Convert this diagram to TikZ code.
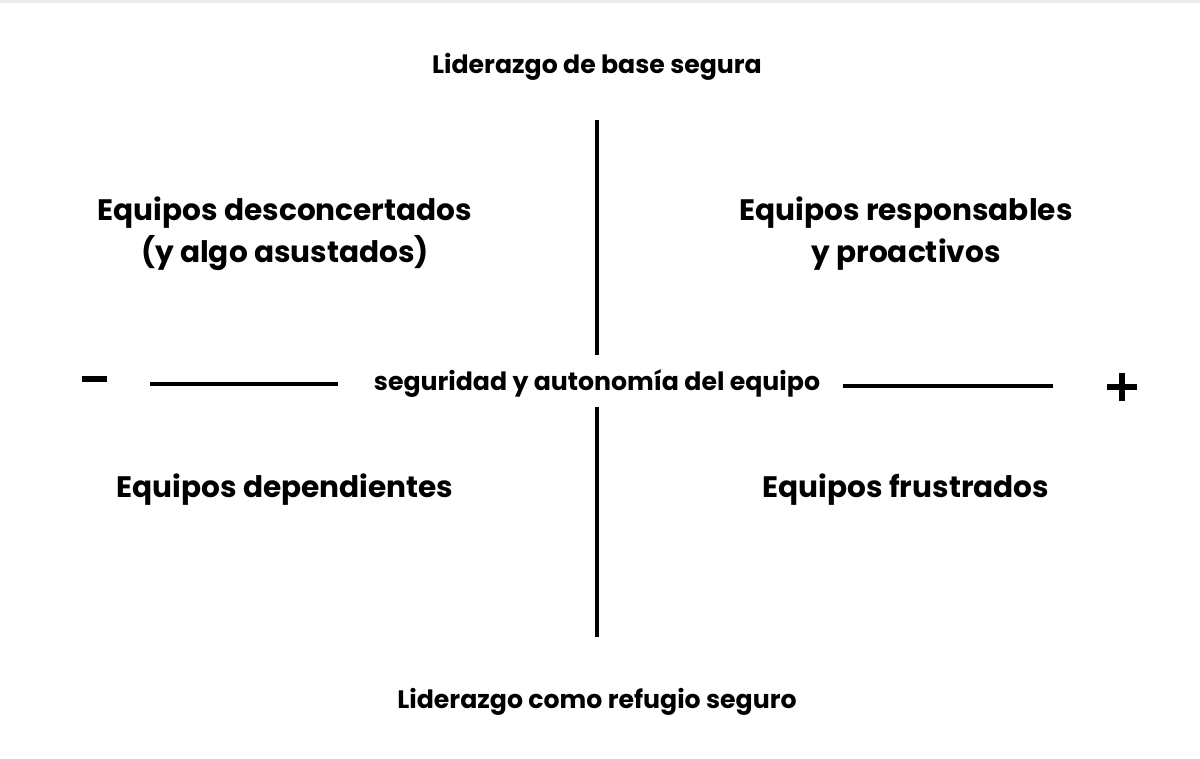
\documentclass[tikz,border=0pt]{standalone}
\usepackage{fontspec}
\setmainfont{Poppins}
\usetikzlibrary{calc}
\begin{document}
\begin{tikzpicture}[x=0.75pt,y=-0.75pt,
  big/.style={font=\fontsize{22.2}{31.5}\selectfont\bfseries, align=center, inner sep=0pt},
  small/.style={font=\fontsize{18.9}{20}\selectfont\bfseries, inner sep=0pt},
  axis/.style={line width=3.2pt}]
\useasboundingbox (0,0) rectangle (1200,758);
\fill[white] (0,0) rectangle (1200,758);
\fill[black!8] (0,0) rectangle (1200,2.5);
\node[small] (top) at (597,67) {Liderazgo de base segura};
\node[small] (bot) at (597,702) {Liderazgo como refugio seguro};
\node[small] (mid) at (597,383) {seguridad y autonomía del equipo};
\coordinate (vt1) at (597,120);
\coordinate (vt2) at (597,355);
\coordinate (vb1) at (597,407);
\coordinate (vb2) at (597,637);
\coordinate (hl1) at (150,384);
\coordinate (hl2) at (338,384);
\coordinate (hr1) at (843,386);
\coordinate (hr2) at (1053,386);
\draw[axis] (vt1) -- (vt2);
\draw[axis] (vb1) -- (vb2);
\draw[axis] (hl1) -- (hl2);
\draw[axis] (hr1) -- (hr2);
\coordinate (m1) at (82,379);
\coordinate (m2) at (107,379);
\draw[line width=4pt] (m1) -- (m2);
\coordinate (pc) at (1122,387);
\draw[line width=4.5pt] ($(pc)+(-15,0)$) -- ($(pc)+(15,0)$);
\draw[line width=4.5pt] ($(pc)+(0,-14)$) -- ($(pc)+(0,14)$);
\node[big] (q1) at (285,234) {Equipos desconcertados\\(y algo asustados)};
\node[big] (q2) at (906,234) {Equipos responsables\\y proactivos};
\node[big] (q3) at (285,490) {Equipos dependientes};
\node[big] (q4) at (906,490) {Equipos frustrados};
\end{tikzpicture}
\end{document}
